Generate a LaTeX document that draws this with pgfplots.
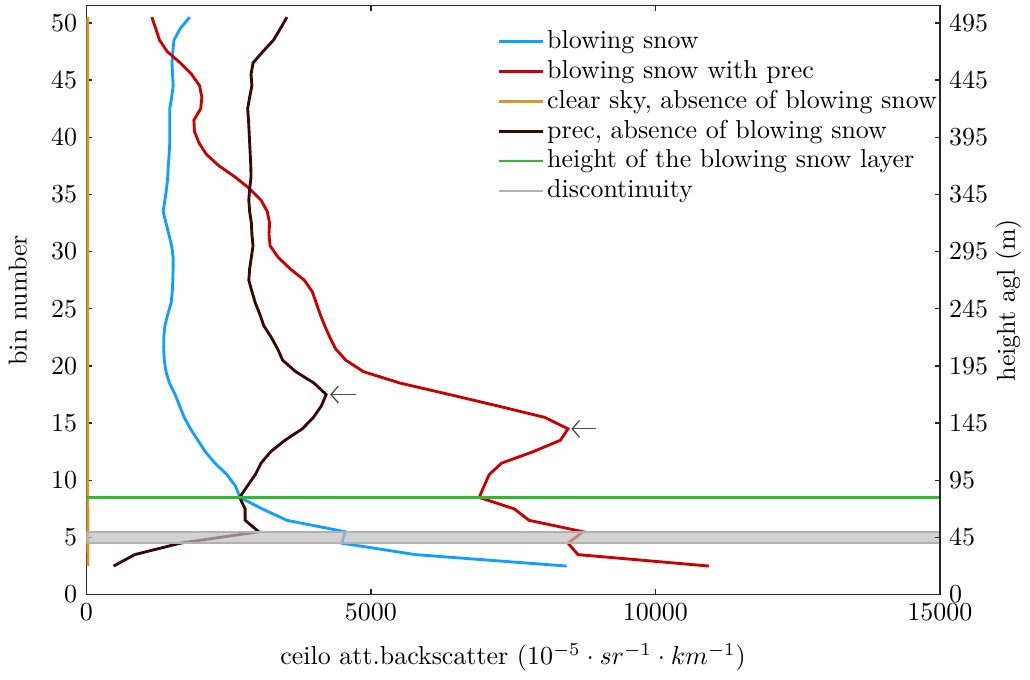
\documentclass[border=0pt]{standalone}
\usepackage{pgfplots}
\usepackage{pgfplotstable}
\pgfplotsset{compat=1.18}
\usetikzlibrary{arrows.meta}

\definecolor{cBlue}{RGB}{16,160,255}
\definecolor{cRed}{RGB}{204,0,0}
\definecolor{cOrange}{RGB}{218,150,40}
\definecolor{cBrown}{RGB}{58,8,8}
\definecolor{cGreen}{RGB}{50,185,50}
\definecolor{axgray}{RGB}{38,38,38}

% bin, blowing snow, blowing snow with prec, clear sky, prec
\pgfplotstableread{
bin  blow  blowprec clear prec
2.5  8440  10940    30    480
3.5  5780  8640     28    850
4.5  4490  8465     27    1650
5.5  4548  8728     27    3030
6.5  3525  7780     26    2790
7.5  3090  7520     26    2790
8.5  2700  6904     25    2694
9.5  2620  6990     25    2830
10.5 2470  7080     25    2970
11.5 2260  7297     25    3070
12.5 2090  7851     24    3240
13.5 1960  8331     24    3490
14.5 1830  8465     24    3795
15.5 1720  8056     24    3990
16.5 1640  7230     24    4130
17.5 1560  6380     24    4215
18.5 1460  5513     24    4000
19.5 1400  4869     24    3680
20.5 1370  4560     24    3450
21.5 1360  4380     24    3360
22.5 1360  4280     24    3250
23.5 1380  4190     24    3120
24.5 1430  4110     24    3050
25.5 1490  4040     24    2970
26.5 1510  3970     24    2910
27.5 1520  3830     24    2855
28.5 1525  3580     24    2870
29.5 1525  3370     24    2900
30.5 1500  3230     24    2929
31.5 1450  3210     24    2910
32.5 1400  3220     24    2900
33.5 1350  3180     24    2870
34.5 1380  3070     24    2855
35.5 1410  2870     24    2870
36.5 1430  2620     24    2894
37.5 1440  2330     24    2890
38.5 1455  2110     24    2880
39.5 1466  1980     24    2870
40.5 1466  1900     24    2860
41.5 1466  1890     24    2850
42.5 1466  2010     24    2835
43.5 1500  2030     24    2870
44.5 1526  1990     24    2910
45.5 1515  1850     24    2894
46.5 1505  1650     24    2930
47.5 1520  1420     24    3104
48.5 1540  1285     24    3290
49.5 1650  1220     24    3410
50.5 1817  1150     24    3525
}\profiles

\begin{document}
\begin{tikzpicture}
\pgfplotsset{
  every axis/.append style={
    scale only axis, width=329pt, height=227pt,
    ymin=0, ymax=51.5,
    axis line style={axgray, line width=0.5pt},
    tick style={axgray, line width=0.5pt, major tick length=2pt},
    tick align=inside,
    ytick={0,5,...,50},
    ticklabel style={font=\normalsize},
  },
}
\begin{axis}[
  name=ax,
  xmin=0, xmax=15000,
  xtick={0,5000,10000,15000},
  scaled x ticks=false,
  x tick label style={/pgf/number format/.cd, 1000 sep={}},
  ytick pos=left,
  xtick pos=both,
  xlabel={ceilo att.backscatter $(10^{-5}\cdot sr^{-1}\cdot km^{-1})$},
  ylabel={bin number},
  xlabel style={yshift=-2pt},
  ylabel style={yshift=2.5pt},
  legend style={at={(0.481,0.965)}, anchor=north west, draw=none, fill=none,
    inner sep=0pt, row sep=0pt,
    nodes={inner sep=1pt, text height=7.4pt, text depth=2.1pt},
    /tikz/every even column/.append style={column sep=0.6pt}},
  legend cell align=left,
]
\addplot[cBlue, line width=1.1pt] table[x=blow, y=bin] {\profiles};
\addlegendentry{blowing snow}
\addplot[cRed, line width=1.1pt] table[x=blowprec, y=bin] {\profiles};
\addlegendentry{blowing snow with prec}
\addplot[cOrange, line width=1.1pt] table[x=clear, y=bin] {\profiles};
\addlegendentry{clear sky, absence of blowing snow}
\addplot[cBrown, line width=1.1pt] table[x=prec, y=bin] {\profiles};
\addlegendentry{prec, absence of blowing snow}
\addplot[cGreen, line width=0.85pt] coordinates {(0,8.5) (15000,8.5)};
\addlegendentry{height of the blowing snow layer}
\addplot[draw=gray!60, line width=0.6pt, fill=gray!50, fill opacity=0.7, forget plot]
  coordinates {(0,4.5) (15000,4.5) (15000,5.5) (0,5.5)} -- cycle;
\addlegendimage{gray!60, line width=0.5pt}
\addlegendentry{discontinuity}
\addplot[gray!60!black, line width=0.5pt, -{Straight Barb[length=2.8pt,width=6.5pt]}, forget plot]
  coordinates {(4741,17.5) (4285,17.5)};
\addplot[gray!60!black, line width=0.5pt, -{Straight Barb[length=2.8pt,width=6.5pt]}, forget plot]
  coordinates {(8963,14.5) (8524,14.5)};
\end{axis}
\begin{axis}[
  xmin=0, xmax=15000,
  axis x line=none,
  axis y line*=right,
  yticklabels={0,45,95,145,195,245,295,345,395,445,495},
  ylabel={height agl (m)},
  ylabel style={yshift=4pt},
]
\end{axis}
% white margin above and below the axes, as in the reference
\path ([yshift=2.2pt]ax.north west) ([yshift=-30.8pt]ax.south west);
\end{tikzpicture}
\end{document}
